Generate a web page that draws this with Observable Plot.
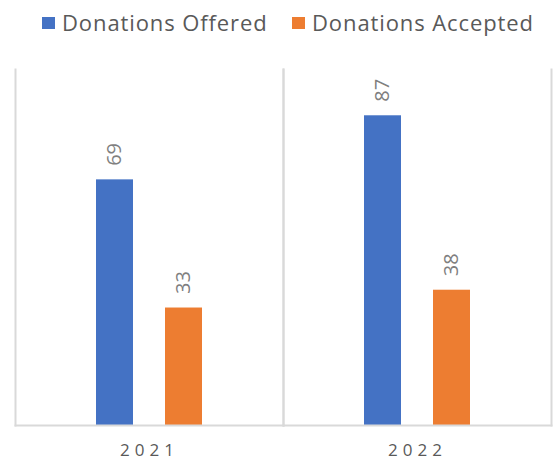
<!DOCTYPE html>
<html>
<head>
<meta charset="utf-8">
<script src="https://cdn.jsdelivr.net/npm/d3@7"></script>
<script src="https://cdn.jsdelivr.net/npm/@observablehq/plot@0.6"></script>
<style>
  body { margin: 0; background: #fff; font-family: "Open Sans", "Noto Sans", sans-serif; }
  #wrap { position: relative; width: 554px; height: 461px; }
  #legend { position: relative; height: 45px; }
  .item { position: absolute; top: 7px; display: flex; align-items: center; font-size: 22px; letter-spacing: 0.9px; color: #595959; white-space: nowrap; }
  .sw { width: 13px; height: 12px; margin-right: 7px; margin-top: 2px; }
  .fxax text { letter-spacing: 5px; }
</style>
</head>
<body>
<div id="wrap">
  <div id="legend"></div>
  <div id="chart"></div>
</div>
<script>
const years = ["2021", "2022"];
const seriesNames = ["Donations Offered", "Donations Accepted"];
const offered = [69, 87];
const accepted = [33, 38];
const colors = ["#4472C4", "#ED7D31"];

const data = [];
years.forEach((y, i) => {
  data.push({year: y, series: seriesNames[0], value: offered[i]});
  data.push({year: y, series: seriesNames[1], value: accepted[i]});
});

const legend = document.getElementById("legend");
const lefts = [42, 292];
seriesNames.forEach((s, i) => {
  const d = document.createElement("div");
  d.className = "item";
  d.style.left = lefts[i] + "px";
  d.innerHTML = `<span class="sw" style="background:${colors[i]}"></span><span>${s}</span>`;
  legend.appendChild(d);
});

const chart = Plot.plot({
  width: 554,
  height: 416,
  marginTop: 24,
  marginBottom: 36,
  marginLeft: 14,
  marginRight: 3,
  style: {fontFamily: "'Open Sans', 'Noto Sans', sans-serif", background: "#fff"},
  fx: {domain: years, padding: 0, axis: null},
  x: {domain: seriesNames, paddingInner: 0.468, paddingOuter: 1.17, axis: null},
  y: {domain: [0, 100], axis: null},
  color: {domain: seriesNames, range: colors},
  marks: [
    Plot.frame({anchor: "left", stroke: "#d9d9d9", strokeWidth: 2}),
    Plot.frame({anchor: "right", stroke: "#d9d9d9", strokeWidth: 2}),
    Plot.barY(data, {fx: "year", x: "series", y: "value", fill: "series"}),
    Plot.frame({anchor: "bottom", stroke: "#d9d9d9", strokeWidth: 2}),
    Plot.text(data, {fx: "year", x: "series", y: "value", text: d => String(d.value),
      rotate: -90, textAnchor: "start", lineAnchor: "middle", dy: -14,
      fill: "#7f7f7f", fontSize: 20}),
    Plot.axisFx({anchor: "bottom", tickSize: 0, tickPadding: 18, fontSize: 17,
      color: "#595959", className: "fxax", label: null})
  ]
});
document.getElementById("chart").appendChild(chart);
</script>
</body>
</html>
